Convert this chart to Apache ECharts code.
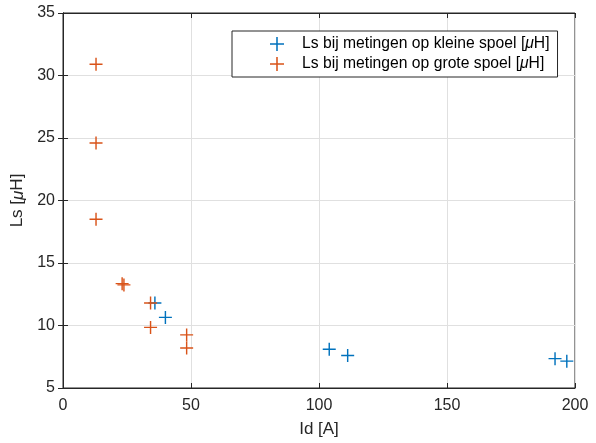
<!DOCTYPE html>
<html><head><meta charset="utf-8">
<script src="https://cdn.jsdelivr.net/npm/echarts@6/dist/echarts.min.js"></script>
<style>html,body{margin:0;padding:0;background:#fff}#c{width:596px;height:443px}</style>
</head><body><div id="c"></div>
<script>
var xTicks = [0, 50, 100, 150, 200];
var yTicks = [5, 10, 15, 20, 25, 30, 35];
var kleineX = [35.9, 40, 104, 111.2, 192.2, 196.8];
var kleineY = [11.8, 10.65, 8.1, 7.6, 7.35, 7.15];
var groteX = [12.9, 12.9, 12.9, 23.1, 23.8, 34.2, 34.2, 48.3, 48.3];
var groteY = [30.9, 24.6, 18.5, 13.35, 13.25, 11.8, 9.85, 9.25, 8.2];
var names = ['Ls bij metingen op kleine spoel [{i|μ}H]', 'Ls bij metingen op grote spoel [{i|μ}H]'];
var colors = ['#0072BD', '#D95319'];
var plus = 'path://M0,4.45 H10 V5.55 H0 Z M4.45,0 H5.55 V10 H4.45 Z';
function pairs(xs, ys){ return xs.map(function(x,i){return [x, ys[i]];}); }
var ch = echarts.init(document.getElementById('c'));
var font = 'Liberation Sans, Arial, Helvetica, sans-serif';
var gridLine = {show:true, lineStyle:{color:'#e0e0e0', width:1}};
ch.setOption({
  animation:false,
  textStyle:{fontFamily:font},
  grid:{left:63, right:21, top:13, bottom:55, show:true, borderColor:'#262626', borderWidth:1, backgroundColor:'#fff'},
  legend:{
    data:['k','g'], left:232, top:31, orient:'vertical', itemGap:4,
    padding:[5,8,5,38], borderColor:'#262626', borderWidth:1, backgroundColor:'#fff',
    itemWidth:14, itemHeight:14,
    formatter:function(n){return n==='k'?names[0]:names[1];},
    textStyle:{fontSize:15.7, color:'#000', fontFamily:font, padding:[0,0,0,13],
      rich:{i:{fontStyle:'italic', fontSize:15.7, fontFamily:font}}}
  },
  xAxis:[{
    type:'value', min:0, max:200, interval:50, position:'bottom',
    name:'Id [A]', nameLocation:'middle', nameGap:33,
    nameTextStyle:{fontSize:17, color:'#262626', fontFamily:font},
    axisLine:{show:true, lineStyle:{color:'#262626'}},
    axisTick:{show:true, inside:true, length:5, lineStyle:{color:'#262626'}},
    axisLabel:{fontSize:16, color:'#262626', margin:10},
    splitLine:gridLine
  },{
    type:'value', min:0, max:200, interval:50, position:'top',
    axisLine:{show:true, lineStyle:{color:'#262626'}},
    axisTick:{show:true, inside:true, length:5, lineStyle:{color:'#262626'}},
    axisLabel:{show:false}, splitLine:{show:false}
  }],
  yAxis:[{
    type:'value', min:5, max:35, interval:5, position:'left',
    name:'Ls [{i|μ}H]', nameLocation:'middle', nameGap:30, nameRotate:90,
    nameTextStyle:{fontSize:17, color:'#262626', fontFamily:font, rich:{i:{fontStyle:'italic', fontSize:17, color:'#262626'}}},
    axisLine:{show:true, lineStyle:{color:'#262626'}},
    axisTick:{show:true, inside:true, length:5, lineStyle:{color:'#262626'}},
    axisLabel:{fontSize:16, color:'#262626', margin:8},
    splitLine:gridLine
  },{
    type:'value', min:5, max:35, interval:5, position:'right',
    axisLine:{show:true, lineStyle:{color:'#262626'}},
    axisTick:{show:true, inside:true, length:5, lineStyle:{color:'#262626'}},
    axisLabel:{show:false}, splitLine:{show:false}
  }],
  series:[{
    name:'k', type:'scatter', symbol:plus, symbolSize:13,
    itemStyle:{color:colors[0], opacity:1}, data:pairs(kleineX, kleineY)
  },{
    name:'g', type:'scatter', symbol:plus, symbolSize:13,
    itemStyle:{color:colors[1], opacity:1}, data:pairs(groteX, groteY)
  }]
});
</script></body></html>
